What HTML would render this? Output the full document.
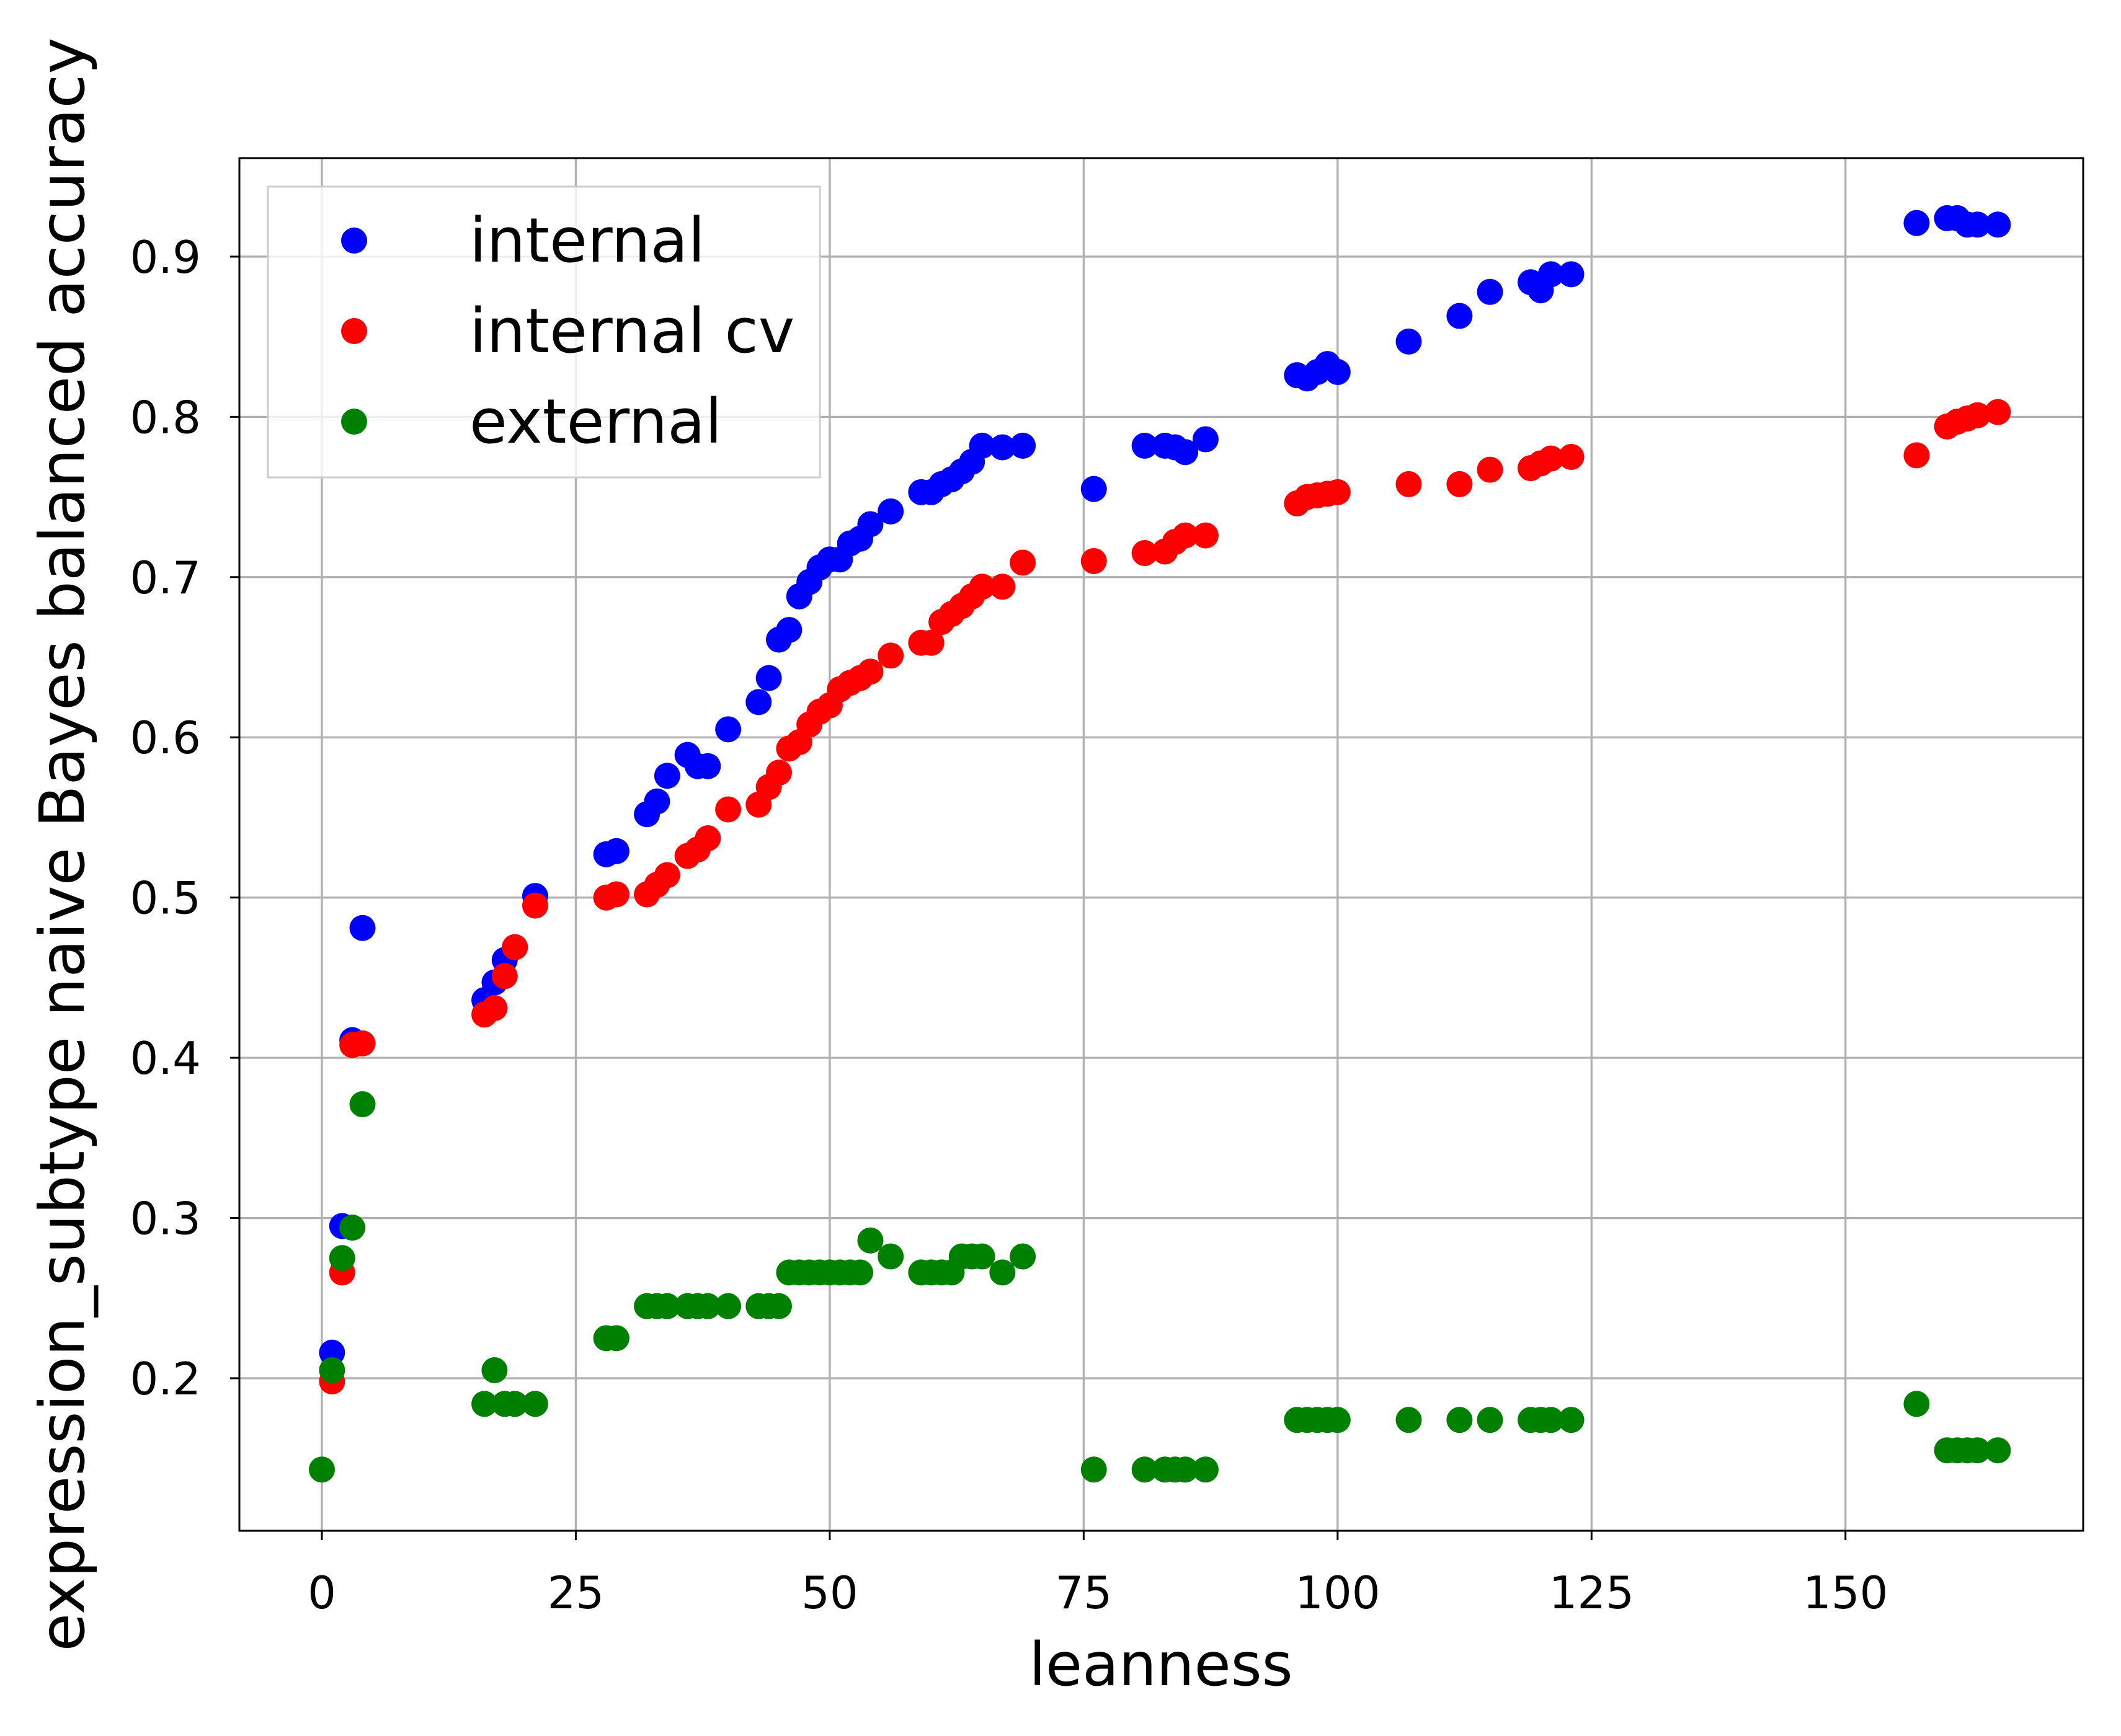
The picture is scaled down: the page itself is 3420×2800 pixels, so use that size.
<!DOCTYPE html>
<html><head><meta charset="utf-8"><style>html,body{margin:0;padding:0;background:#fff}svg{display:block}text{font-family:"DejaVu Sans","Liberation Sans",sans-serif;fill:#000}</style></head>
<body>
<svg id="chart" width="3420" height="2800" viewBox="0 0 3420 2800" xmlns="http://www.w3.org/2000/svg">
<rect width="3420" height="2800" fill="#fff"/>
<g id="grid"></g>
<g id="marks"></g>
<rect x="386" y="255" width="2973" height="2214" fill="none" stroke="#000" stroke-width="3"/>
<g id="ticks"></g>
<text x="1872" y="2718" font-size="96" text-anchor="middle">leanness</text>
<text transform="translate(135,1362) rotate(-90)" font-size="100" text-anchor="middle">expression_subtype naive Bayes balanced accuracy</text>
<g>
<rect x="432" y="301" width="890" height="469" fill="#fff" fill-opacity="0.8" stroke="#ccc" stroke-width="3"/>
<circle cx="571" cy="388" r="21" fill="#0000ff"/>
<text x="757" y="422" font-size="99">internal</text>
<circle cx="571" cy="534" r="21" fill="#ff0000"/>
<text x="757" y="568" font-size="99">internal cv</text>
<circle cx="571" cy="680" r="21" fill="#008000"/>
<text x="757" y="714" font-size="99">external</text>
</g>
</svg>
<script>
const xs = [1,2,3,4,16,17,18,19,21,28,29,32,33,34,36,37,38,40,43,44,45,46,47,48,49,50,51,52,53,54,56,59,60,61,62,63,64,65,67,69,76,81,83,84,85,87,96,97,98,99,100,107,112,115,119,120,121,123,157,160,161,162,163,165];
const internalVals = [0.216,0.295,0.411,0.481,0.436,0.447,0.461,0.469,0.501,0.527,0.529,0.552,0.560,0.576,0.589,0.582,0.582,0.605,0.622,0.637,0.661,0.667,0.688,0.697,0.706,0.711,0.711,0.721,0.724,0.733,0.741,0.753,0.753,0.758,0.761,0.766,0.772,0.782,0.781,0.782,0.755,0.782,0.782,0.781,0.778,0.786,0.826,0.824,0.828,0.833,0.828,0.847,0.863,0.878,0.884,0.879,0.889,0.889,0.921,0.924,0.924,0.920,0.920,0.920];
const internalCvVals = [0.198,0.266,0.408,0.409,0.427,0.431,0.451,0.469,0.495,0.500,0.502,0.502,0.508,0.514,0.526,0.530,0.537,0.555,0.558,0.569,0.578,0.593,0.597,0.608,0.616,0.620,0.630,0.634,0.637,0.641,0.651,0.659,0.659,0.672,0.677,0.682,0.688,0.694,0.694,0.709,0.710,0.715,0.716,0.722,0.726,0.726,0.746,0.750,0.751,0.752,0.753,0.758,0.758,0.767,0.768,0.771,0.774,0.775,0.776,0.794,0.797,0.799,0.801,0.803];
const externalXs = [0].concat(xs);
const externalVals = [0.143,0.205,0.275,0.294,0.371,0.184,0.205,0.184,0.184,0.184,0.225,0.225,0.245,0.245,0.245,0.245,0.245,0.245,0.245,0.245,0.245,0.245,0.266,0.266,0.266,0.266,0.266,0.266,0.266,0.266,0.286,0.276,0.266,0.266,0.266,0.266,0.276,0.276,0.276,0.266,0.276,0.143,0.143,0.143,0.143,0.143,0.143,0.174,0.174,0.174,0.174,0.174,0.174,0.174,0.174,0.174,0.174,0.174,0.174,0.184,0.155,0.155,0.155,0.155,0.155];
const xTicks = [0,25,50,75,100,125,150];
const yTicks = [0.2,0.3,0.4,0.5,0.6,0.7,0.8,0.9];
const yTickLabels = ["0.2","0.3","0.4","0.5","0.6","0.7","0.8","0.9"];

const L=386,R=3359,T=255,B=2469;
const xMin=-8.12,xMax=173.4,yMin=0.1048,yMax=0.9615;
function sx(v){return L+(v-xMin)/(xMax-xMin)*(R-L);}
function sy(v){return B-(v-yMin)/(yMax-yMin)*(B-T);}
const NS="http://www.w3.org/2000/svg";
function mk(tag,attrs,parent){const e=document.createElementNS(NS,tag);for(const k in attrs)e.setAttribute(k,attrs[k]);parent.appendChild(e);return e;}
const grid=document.getElementById('grid'),ticks=document.getElementById('ticks'),marks=document.getElementById('marks');
xTicks.forEach(t=>{
  const g=mk('line',{x1:sx(t),x2:sx(t),y1:T,y2:B,stroke:'#b0b0b0','stroke-width':3.3},grid);
  
  
  const tk=mk('line',{x1:sx(t),x2:sx(t),y1:B,y2:B+15,stroke:'#000','stroke-width':3},ticks);
  
  
  const tx=mk('text',{x:sx(t),y:2594,'font-size':72,'text-anchor':'middle'},ticks);
  tx.textContent=String(t);
  
  
});
yTicks.forEach((t,i)=>{
  const g=mk('line',{x1:L,x2:R,y1:sy(t),y2:sy(t),stroke:'#b0b0b0','stroke-width':3.3},grid);
  
  
  const tk=mk('line',{x1:L-15,x2:L,y1:sy(t),y2:sy(t),stroke:'#000','stroke-width':3},ticks);
  
  
  const tx=mk('text',{x:324,y:sy(t)+26,'font-size':72,'text-anchor':'end'},ticks);
  tx.textContent=yTickLabels[i];
  
  
});
function series(xv,yv,color,name){
  xv.forEach((x,i)=>{
    const c=mk('circle',{cx:sx(x),cy:sy(yv[i]),r:21,fill:color},marks);
    
    
  });
}
series(xs,internalVals,'#0000ff','point-internal');
series(xs,internalCvVals,'#ff0000','point-internal-cv');
series(externalXs,externalVals,'#008000','point-external');
</script>
</body></html>
